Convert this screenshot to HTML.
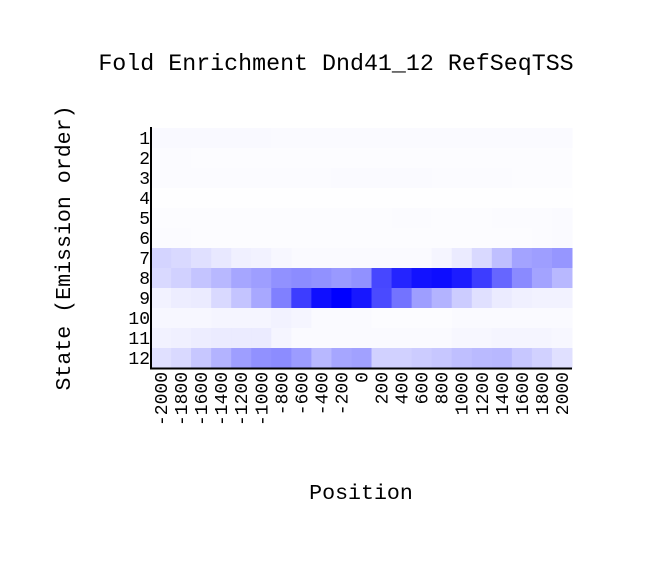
<!DOCTYPE html>
<html><head><meta charset="utf-8"><style>body{margin:0;background:#fff}svg text{font-family:"Liberation Mono","DejaVu Sans Mono",monospace;fill:#000}</style></head>
<body>
<svg width="672" height="556" xmlns="http://www.w3.org/2000/svg">
<text x="336" y="70" font-size="23.3" text-anchor="middle">Fold Enrichment Dnd41_12 RefSeqTSS</text>
<text transform="translate(70,248) rotate(-90)" font-size="21.6" text-anchor="middle">State (Emission order)</text>
<text x="361" y="499" font-size="21.6" text-anchor="middle">Position</text>
<g id="cells"></g>
<g id="ylab"></g>
<g id="xlab"></g>
<line x1="151" y1="127" x2="151" y2="369" stroke="#000" stroke-width="2"/>
<line x1="150" y1="368.5" x2="572" y2="368.5" stroke="#000" stroke-width="2"/>
</svg>
<script>
const positions=[-2000,-1800,-1600,-1400,-1200,-1000,-800,-600,-400,-200,0,200,400,600,800,1000,1200,1400,1600,1800,2000];
const states=[1,2,3,4,5,6,7,8,9,10,11,12];
const r1=[0.025,0.025,0.025,0.025,0.025,0.025,0.02,0.02,0.02,0.02,0.02,0.02,0.02,0.02,0.02,0.02,0.02,0.02,0.02,0.02,0.02];
const r2=[0.015,0.015,0.01,0.01,0.01,0.01,0.01,0.01,0.01,0.01,0.01,0.01,0.01,0.01,0.01,0.01,0.01,0.01,0.01,0.01,0.01];
const r3=[0.015,0.015,0.015,0.015,0.015,0.015,0.015,0.015,0.015,0.02,0.02,0.02,0.02,0.02,0.015,0.015,0.015,0.015,0.01,0.01,0.01];
const r4=[0.005,0.005,0.005,0.005,0.005,0.005,0.005,0.005,0.005,0.005,0.005,0.005,0.005,0.005,0.005,0.005,0.005,0.005,0.005,0.005,0.005];
const r5=[0.01,0.01,0.01,0.01,0.01,0.01,0.01,0.01,0.01,0.01,0.01,0.01,0.015,0.015,0.01,0.01,0.01,0.015,0.015,0.015,0.02];
const r6=[0.015,0.015,0.01,0.01,0.01,0.01,0.01,0.01,0.01,0.01,0.01,0.01,0.01,0.01,0.01,0.01,0.01,0.01,0.01,0.015,0.02];
const r7=[0.17,0.15,0.12,0.09,0.06,0.05,0.03,0.02,0.02,0.02,0.02,0.02,0.02,0.02,0.04,0.08,0.15,0.25,0.36,0.38,0.41];
const r8=[0.15,0.18,0.23,0.28,0.35,0.38,0.43,0.45,0.43,0.4,0.43,0.72,0.86,0.93,0.95,0.89,0.76,0.6,0.46,0.36,0.28];
const r9=[0.05,0.07,0.08,0.15,0.23,0.34,0.5,0.76,0.94,1.0,0.91,0.71,0.55,0.38,0.3,0.2,0.12,0.08,0.06,0.05,0.05];
const r10=[0.03,0.03,0.03,0.04,0.04,0.04,0.05,0.04,0.02,0.02,0.02,0.01,0.01,0.01,0.01,0.02,0.02,0.02,0.02,0.02,0.02];
const r11=[0.05,0.06,0.07,0.08,0.08,0.08,0.04,0.02,0.02,0.02,0.02,0.02,0.02,0.02,0.02,0.03,0.03,0.04,0.04,0.04,0.03];
const r12=[0.12,0.15,0.22,0.3,0.38,0.43,0.45,0.39,0.28,0.35,0.37,0.18,0.18,0.2,0.22,0.25,0.27,0.28,0.22,0.18,0.12];
const rows=[r1,r2,r3,r4,r5,r6,r7,r8,r9,r10,r11,r12];
const NS="http://www.w3.org/2000/svg";
const X0=151,X1=572,Y0=128,Y1=368;
const cw=(X1-X0)/positions.length, ch=(Y1-Y0)/states.length;
const xs=i=>X0+i*cw, ys=j=>Y0+j*ch;
const col=v=>{const c=Math.round(255*(1-v));return `rgb(${c},${c},255)`;};
const g=document.getElementById('cells');
rows.forEach((row,j)=>row.forEach((v,i)=>{
 const r=document.createElementNS(NS,'rect');
 
 
 r.setAttribute('x',xs(i));r.setAttribute('y',ys(j));
 r.setAttribute('width',cw+0.5);r.setAttribute('height',ch+0.5);
 r.setAttribute('fill',col(v));g.appendChild(r);
}));
const yl=document.getElementById('ylab');
states.forEach((s,j)=>{
 const t=document.createElementNS(NS,'text');
 
 
 t.setAttribute('x',150);t.setAttribute('y',ys(j)+ch/2+6);
 t.setAttribute('font-size','18');t.setAttribute('text-anchor','end');
 t.textContent=s;yl.appendChild(t);
});
const xl=document.getElementById('xlab');
positions.forEach((p,i)=>{
 const t=document.createElementNS(NS,'text');
 
 
 const cx=xs(i)+cw/2+6;
 t.setAttribute('transform',`translate(${cx},372) rotate(-90)`);
 t.setAttribute('font-size','18');t.setAttribute('text-anchor','end');
 t.textContent=p;xl.appendChild(t);
});
</script>
</body></html>
